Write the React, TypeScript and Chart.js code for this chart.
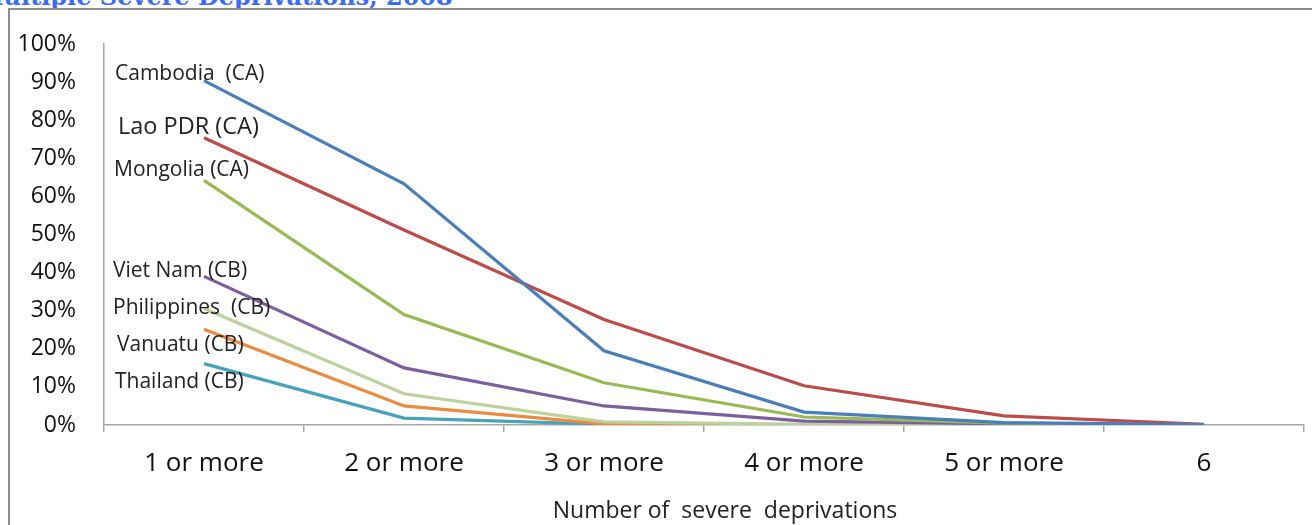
import React, { useEffect, useRef } from "react";
import { Chart, registerables } from "chart.js";

Chart.register(...registerables);

const categories = ["1 or more", "2 or more", "3 or more", "4 or more", "5 or more", "6"];
const yTickValues = [0, 10, 20, 30, 40, 50, 60, 70, 80, 90, 100];

const seriesNames = [
  "Cambodia  (CA)",
  "Lao PDR (CA)",
  "Mongolia (CA)",
  "Viet Nam (CB)",
  "Philippines  (CB)",
  "Vanuatu (CB)",
  "Thailand (CB)",
];

const cambodia = [90.4, 63.3, 19.5, 3.4, 0.6, 0.1];
const laoPdr = [75.4, 51.2, 27.7, 10.3, 2.4, 0.2];
const mongolia = [64.2, 29.0, 11.1, 2.1, 0.5, 0.0];
const vietNam = [39.0, 15.0, 5.0, 1.0, 0.3, 0.0];
const philippines = [30.6, 8.2, 0.8, 0.2, 0.0, 0.0];
const vanuatu = [25.1, 5.0, 0.3, 0.1, 0.0, 0.0];
const thailand = [16.1, 1.8, 0.2, 0.1, 0.0, 0.0];

// label anchor heights (in % units) for the in-chart series labels
const labelLevels = [92.1, 78.1, 66.8, 40.4, 30.6, 21.1, 11.3];

const seriesValues = [cambodia, laoPdr, mongolia, vietNam, philippines, vanuatu, thailand];
const seriesColors = ["#4a7ebb", "#be4b48", "#98b954", "#7d5fa0", "#bcd19b", "#ec8a3e", "#45a3bb"];
const labelIndent = [11, 14, 10, 9, 9, 13, 11];
const labelFontSize = [21, 23.5, 21, 21, 21, 21, 21];

const axisTitle = "Number of  severe  deprivations";
const chartTitle = "Multiple Severe Deprivations, 2008";

const FONT = "'Open Sans', 'Noto Sans', sans-serif";

export default function App() {
  const canvasRef = useRef<HTMLCanvasElement | null>(null);

  useEffect(() => {
    if (!canvasRef.current) return;

    const labelPlugin = {
      id: "seriesLabels",
      afterDatasetsDraw(chart: any) {
        const ctx = chart.ctx;
        const yScale = chart.scales.y;
        const area = chart.chartArea;
        ctx.save();
        ctx.fillStyle = "#222222";
        ctx.textAlign = "left";
        ctx.textBaseline = "middle";
        seriesNames.forEach((name, i) => {
          ctx.font = `${labelFontSize[i]}px ${FONT}`;
          ctx.fillText(name, area.left + labelIndent[i], yScale.getPixelForValue(labelLevels[i]));
        });
        ctx.font = `23px ${FONT}`;
        ctx.textAlign = "center";
        ctx.fillText(axisTitle, (area.left + area.right) / 2 + 21, chart.height - 14);
        ctx.restore();
      },
    };

    const chart = new Chart(canvasRef.current, {
      type: "line",
      data: {
        labels: categories,
        datasets: seriesNames.map((name, i) => ({
          label: name,
          data: seriesValues[i],
          borderColor: seriesColors[i],
          backgroundColor: seriesColors[i],
          borderWidth: 3.2,
          pointRadius: 0,
          tension: 0,
          fill: false,
        })),
      },
      options: {
        animation: false,
        responsive: true,
        maintainAspectRatio: false,
        layout: { padding: { top: 34, right: 8, bottom: 0, left: 0 } },
        plugins: {
          legend: { display: false },
          tooltip: { enabled: false },
          title: { display: false },
        },
        scales: {
          x: {
            type: "category",
            offset: true,
            grid: {
              display: true,
              drawOnChartArea: false,
              drawTicks: true,
              tickLength: 7,
              offset: true,
              color: "#a6a6a6",
              lineWidth: 1.5,
            },
            border: { display: true, color: "#a6a6a6", width: 1.5 },
            ticks: {
              color: "#111111",
              font: { family: FONT, size: 26 },
              padding: 16,
              maxRotation: 0,
              autoSkip: false,
            },
            afterFit(scale: any) {
              scale.height = 100;
            },
          },
          y: {
            min: 0,
            max: 100,
            afterBuildTicks(scale: any) {
              scale.ticks = yTickValues.map((v) => ({ value: v }));
            },
            grid: { display: false, drawTicks: false },
            border: { display: true, color: "#a6a6a6", width: 1.5 },
            ticks: {
              color: "#111111",
              font: { family: FONT, size: 23 },
              padding: 28,
              callback: (v: any) => `${v}%`,
            },
            afterFit(scale: any) {
              scale.width = 94;
              scale.paddingTop = 0;
              scale.paddingBottom = 0;
            },
          },
        },
      },
      plugins: [labelPlugin],
    });

    return () => chart.destroy();
  }, []);

  return (
    <div
      style={{
        position: "absolute",
        left: 0,
        top: 0,
        width: 1312,
        height: 525,
        overflow: "hidden",
        background: "#ffffff",
      }}
    >
      <div
        style={{
          position: "absolute",
          left: -23,
          top: -15,
          fontFamily: "'DejaVu Serif', serif",
          fontWeight: "bold",
          fontSize: 24,
          color: "#3a6cf4",
          whiteSpace: "nowrap",
          lineHeight: "24px",
        }}
      >
        {chartTitle}
      </div>
      <div
        style={{
          position: "absolute",
          left: 8,
          top: 8,
          width: 1304,
          height: 517,
          borderLeft: "2px solid #8c8c8c",
          borderTop: "2px solid #8c8c8c",
        }}
      >
        <div style={{ position: "relative", width: 1302, height: 515 }}>
          <canvas ref={canvasRef} />
        </div>
      </div>
    </div>
  );
}
